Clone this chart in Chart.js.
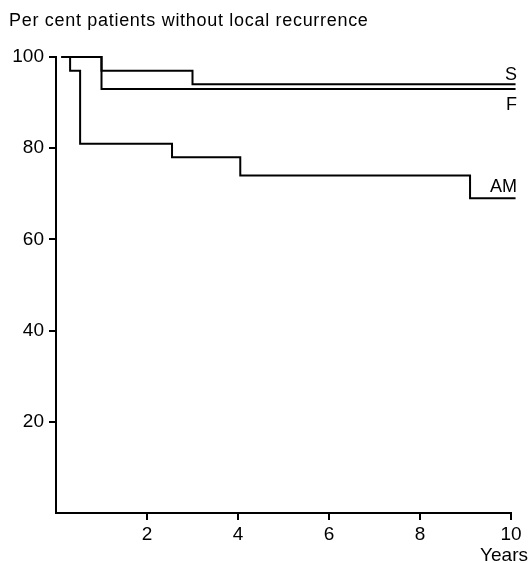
<!DOCTYPE html>
<html lang="en">

<head>
    <meta charset="UTF-8">
    <title>Local recurrence</title>
    <script src="https://cdn.jsdelivr.net/npm/chart.js"></script>
    <style>
        body { margin: 0; background: #fff; }
        #wrap { width: 530px; height: 563px; }
    </style>
</head>

<body>
    <div id="wrap"><canvas id="kmChart" width="530" height="563"></canvas></div>
    <script>
        // step points: (year of drop, value after drop)
        var sYears = [0.12, 1, 3, 10.1];
        var sValues = [100, 97, 94, 94];
        var fYears = [0.12, 1, 10.1];
        var fValues = [100, 93, 93];
        var amYears = [0.12, 0.31, 0.53, 2.55, 4.05, 9.1, 10.1];
        var amValues = [100, 97, 81, 78, 74, 69, 69];
        var seriesNames = ['S', 'F', 'AM'];
        var xTicks = [2, 4, 6, 8, 10];
        var yTicks = [20, 40, 60, 80, 100];

        var font = "'Liberation Sans', Arial, sans-serif";

        function pts(xs, ys) {
            return xs.map(function (x, i) { return { x: x, y: ys[i] }; });
        }

        function series(name, xs, ys) {
            return {
                label: name,
                data: pts(xs, ys),
                stepped: true,
                borderColor: '#000',
                borderWidth: 2,
                pointRadius: 0,
                fill: false,
                clip: false
            };
        }

        var textPlugin = {
            id: 'texts',
            afterDraw: function (chart) {
                var ctx = chart.ctx;
                var xs = chart.scales.x, ys = chart.scales.y;
                ctx.save();
                ctx.fillStyle = '#000';
                ctx.font = '18px ' + font;
                ctx.letterSpacing = '0.7px';
                ctx.textAlign = 'left';
                ctx.textBaseline = 'alphabetic';
                ctx.fillText('Per cent patients without local recurrence', 9, 26);
                ctx.letterSpacing = '0px';

                ctx.font = '19px ' + font;
                ctx.textAlign = 'right';
                ctx.fillText('Years', 528, 561);

                // series labels at the end of each curve
                ctx.font = '18px ' + font;
                var right = xs.getPixelForValue(10.13);
                ctx.fillText(seriesNames[0], right, ys.getPixelForValue(sValues[sValues.length - 1]) - 4);
                ctx.textBaseline = 'top';
                ctx.fillText(seriesNames[1], right, ys.getPixelForValue(fValues[fValues.length - 1]) + 7);
                ctx.textBaseline = 'alphabetic';
                ctx.fillText(seriesNames[2], right, ys.getPixelForValue(amValues[amValues.length - 1]) - 6);
                ctx.restore();
            }
        };

        var kmChart = new Chart(document.getElementById('kmChart').getContext('2d'), {
            type: 'line',
            data: {
                datasets: [
                    series(seriesNames[0], sYears, sValues),
                    series(seriesNames[1], fYears, fValues),
                    series(seriesNames[2], amYears, amValues)
                ]
            },
            options: {
                responsive: false,
                animation: false,
                layout: { padding: { top: 57, right: 19, bottom: 0, left: 0 } },
                plugins: { legend: { display: false }, tooltip: { enabled: false } },
                scales: {
                    x: {
                        type: 'linear',
                        min: 0,
                        max: 10,
                        afterFit: function (s) { s.height = 50; },
                        afterBuildTicks: function (s) { s.ticks = xTicks.map(function (v) { return { value: v }; }); },
                        border: { color: '#000', width: 2 },
                        grid: { drawOnChartArea: false, color: '#000', tickLength: 7, lineWidth: 2 },
                        ticks: { color: '#000', font: { family: font, size: 19 }, padding: 3, maxRotation: 0 }
                    },
                    y: {
                        min: 0,
                        max: 100,
                        afterFit: function (s) { s.width = 56; },
                        afterBuildTicks: function (s) { s.ticks = yTicks.map(function (v) { return { value: v }; }); },
                        border: { color: '#000', width: 2 },
                        grid: { drawOnChartArea: false, color: '#000', tickLength: 7, lineWidth: 2 },
                        ticks: { color: '#000', font: { family: font, size: 19 }, padding: 5 }
                    }
                }
            },
            plugins: [textPlugin]
        });
    </script>
</body>

</html>
